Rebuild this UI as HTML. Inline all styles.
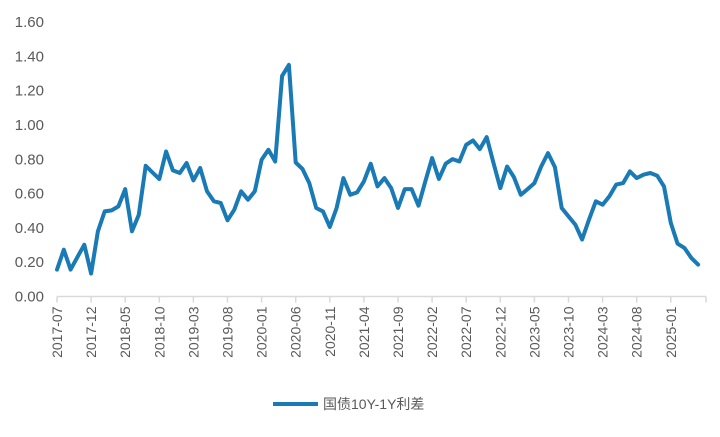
<!DOCTYPE html>
<html><head><meta charset="utf-8"><style>
body{margin:0;background:#fff;width:720px;height:432px;overflow:hidden}
svg text{font-family:"Liberation Sans","Noto Sans CJK SC",sans-serif;fill:#595959}
</style></head><body>
<svg id="chart" width="720" height="432" viewBox="0 0 720 432" xmlns="http://www.w3.org/2000/svg">
<g id="yaxis"></g>
<g id="xaxis"></g>
<path id="line" fill="none" stroke="#1a7ab5" stroke-width="4" stroke-linejoin="round" stroke-linecap="round"/>
<g>
<line x1="273" y1="404" x2="318" y2="404" stroke="#1a7ab5" stroke-width="4"/>
<text x="323" y="409" font-size="14">国债10Y-1Y利差</text>
</g>
</svg>
<script>
const startYear = 2017, startMonth = 7;
const values = [0.157,0.273,0.157,0.231,0.302,0.134,0.38,0.496,0.502,0.525,0.626,0.38,0.477,0.762,0.723,0.685,0.845,0.735,0.72,0.778,0.677,0.749,0.613,0.555,0.545,0.444,0.506,0.613,0.564,0.613,0.797,0.855,0.787,1.286,1.35,0.781,0.743,0.661,0.516,0.496,0.405,0.516,0.69,0.593,0.607,0.671,0.774,0.642,0.69,0.632,0.516,0.626,0.626,0.529,0.671,0.807,0.685,0.774,0.801,0.787,0.884,0.909,0.859,0.929,0.778,0.632,0.758,0.696,0.593,0.626,0.661,0.758,0.836,0.754,0.516,0.467,0.419,0.332,0.448,0.555,0.535,0.584,0.652,0.661,0.729,0.69,0.71,0.72,0.704,0.642,0.429,0.308,0.283,0.225,0.186];
const yTicks = [0,0.2,0.4,0.6,0.8,1.0,1.2,1.4,1.6];
const labelEvery = 5;
const NS="http://www.w3.org/2000/svg";
const x0=57, dx=6.82, yBase=296.5, yTop=22;
const X=i=>x0+i*dx;
const Y=v=>yBase-(v/1.6)*(yBase-yTop);
const svg=document.getElementById('chart');
const ya=document.getElementById('yaxis'), xa=document.getElementById('xaxis');
function mk(t,a,p){const e=document.createElementNS(NS,t);for(const k in a)e.setAttribute(k,a[k]);p.appendChild(e);return e;}
yTicks.forEach(v=>{
 const t=mk('text',{x:44,y:Y(v)+5,'text-anchor':'end','font-size':15},ya);
 
 
 t.textContent=v.toFixed(2);
});
const axis=mk('line',{x1:x0,y1:yBase,x2:706,y2:yBase,stroke:'#d9d9d9','stroke-width':1.5},xa);


for(let i=0;i<values.length;i+=labelEvery){
 const x=X(i);
 const tk=mk('line',{x1:x,y1:yBase,x2:x,y2:yBase+6,stroke:'#d9d9d9','stroke-width':1.5},xa);
 
 
 const m=startMonth-1+i, yr=startYear+Math.floor(m/12), mo=m%12+1;
 const t=mk('text',{x:0,y:0,'text-anchor':'end','font-size':14,transform:`translate(${x+5},${yBase+10}) rotate(-90)`},xa);
 
 
 t.textContent=yr+'-'+String(mo).padStart(2,'0');
}
const tkEnd=mk('line',{x1:706,y1:yBase,x2:706,y2:yBase+6,stroke:'#d9d9d9','stroke-width':1.5},xa);


document.getElementById('line').setAttribute('d',values.map((v,i)=>(i?'L':'M')+X(i).toFixed(1)+' '+Y(v).toFixed(1)).join(' '));
</script>
</body></html>
